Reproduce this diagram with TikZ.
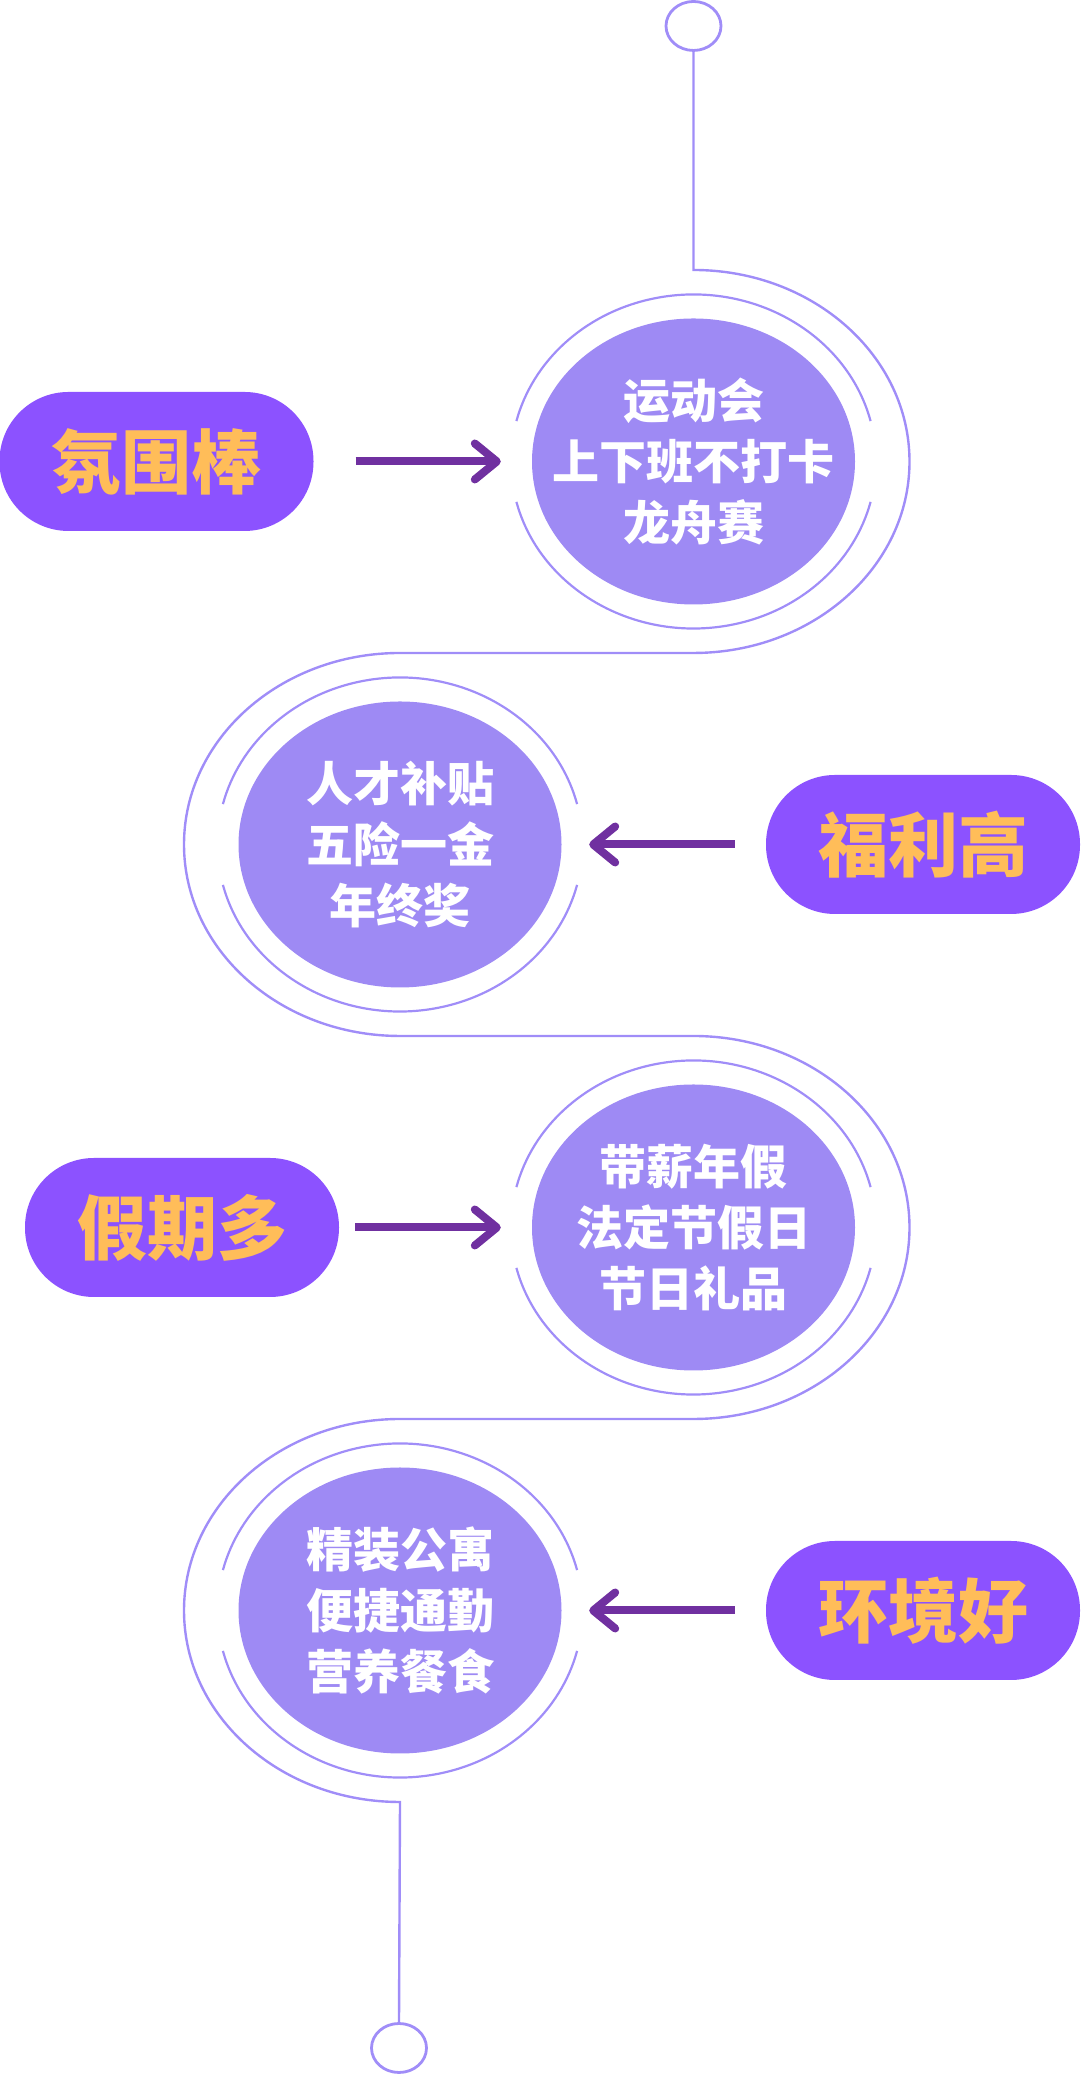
\documentclass[tikz,border=0pt]{standalone}
\usepackage{fontspec}
\newfontfamily\cjk{Noto Sans CJK SC}
\usetikzlibrary{arrows.meta, shapes.geometric, positioning}
\definecolor{pillviolet}{HTML}{8C52FF}
\definecolor{ringfill}{HTML}{9E8AF4}
\definecolor{ringline}{HTML}{A08DF8}
\definecolor{arrowpurple}{HTML}{7030A0}
\definecolor{labelorange}{HTML}{FFBD59}

\begin{document}
\begin{tikzpicture}[x=1pt, y=1pt,
    pill/.style={rectangle, rounded corners=69pt, fill=pillviolet, minimum width=314pt, minimum height=139pt, inner sep=0pt, text=labelorange, font=\cjk\bfseries\fontsize{70}{84}\selectfont},
    ring/.style={ellipse, fill=ringfill, minimum width=323pt, minimum height=286pt, inner sep=0pt},
    ringtext/.style={align=center, text=white, inner sep=0pt, font=\cjk\bfseries\fontsize{47}{61}\selectfont},
    knob/.style={ellipse, draw=ringline, line width=2.8pt, minimum width=55pt, minimum height=49pt, inner sep=0pt},
    track/.style={draw=ringline, line width=2.4pt},
    halo/.style={draw=ringline, line width=2.2pt},
    linkarrow/.style={draw=arrowpurple, line width=8pt, -{Straight Barb[length=22pt, width=36pt, round]}}]
  \useasboundingbox (0,0) rectangle (1080,2074);

  % Bolas de inicio y fin
  \node[knob] (toptip) at (693.5,2048) {};
  \node[knob] (bottip) at (399,26) {};

  % Circulos rellenos
  \node[ring] (yundong) at (693.5,1612.5) {};
  \node[ring] (rencai) at (400,1229.5) {};
  \node[ring] (daixin) at (693.5,846.5) {};
  \node[ring] (jingzhuang) at (400,463.5) {};

  % Recorrido en serpentina
  \draw[track] (toptip.south) -- (693.5,1804)
    arc[start angle=90, end angle=-90, x radius=216pt, y radius=191.5pt] -- (400,1421)
    arc[start angle=90, end angle=270, x radius=216pt, y radius=191.5pt] -- (693.5,1038)
    arc[start angle=90, end angle=-90, x radius=216pt, y radius=191.5pt] -- (400,655)
    arc[start angle=90, end angle=270, x radius=216pt, y radius=191.5pt] -- (bottip.north);

  % Aros interiores con cortes laterales
  \draw[halo] ([shift={(14:182.5pt and 167pt)}]yundong.center) arc[start angle=14, end angle=166, x radius=182.5pt, y radius=167pt];
  \draw[halo] ([shift={(194:182.5pt and 167pt)}]yundong.center) arc[start angle=194, end angle=346, x radius=182.5pt, y radius=167pt];
  \draw[halo] ([shift={(14:182.5pt and 167pt)}]rencai.center) arc[start angle=14, end angle=166, x radius=182.5pt, y radius=167pt];
  \draw[halo] ([shift={(194:182.5pt and 167pt)}]rencai.center) arc[start angle=194, end angle=346, x radius=182.5pt, y radius=167pt];
  \draw[halo] ([shift={(14:182.5pt and 167pt)}]daixin.center) arc[start angle=14, end angle=166, x radius=182.5pt, y radius=167pt];
  \draw[halo] ([shift={(194:182.5pt and 167pt)}]daixin.center) arc[start angle=194, end angle=346, x radius=182.5pt, y radius=167pt];
  \draw[halo] ([shift={(14:182.5pt and 167pt)}]jingzhuang.center) arc[start angle=14, end angle=166, x radius=182.5pt, y radius=167pt];
  \draw[halo] ([shift={(194:182.5pt and 167pt)}]jingzhuang.center) arc[start angle=194, end angle=346, x radius=182.5pt, y radius=167pt];

  % Textos de los circulos
  \node[ringtext] (yundongtext) at (yundong) {运动会\\上下班不打卡\\龙舟赛};
  \node[ringtext] (rencaitext) at (rencai) {人才补贴\\五险一金\\年终奖};
  \node[ringtext] (daixintext) at (daixin) {带薪年假\\法定节假日\\节日礼品};
  \node[ringtext] (jingzhuangtext) at (jingzhuang) {精装公寓\\便捷通勤\\营养餐食};

  % Etiquetas
  \node[pill] (fenwei) at (156.5,1612.5) {氛围棒};
  \node[pill] (fuli) at (923,1229.5) {福利高};
  \node[pill] (jiaqi) at (182,846.5) {假期多};
  \node[pill] (huanjing) at (923,463.5) {环境好};

  % Flechas
  \draw[linkarrow, shorten <=42pt, shorten >=31pt] (fenwei) -- (yundong);
  \draw[linkarrow, shorten <=31pt, shorten >=27.5pt] (fuli) -- (rencai);
  \draw[linkarrow, shorten <=16pt, shorten >=31pt] (jiaqi) -- (daixin);
  \draw[linkarrow, shorten <=31pt, shorten >=27.5pt] (huanjing) -- (jingzhuang);
\end{tikzpicture}
\end{document}
